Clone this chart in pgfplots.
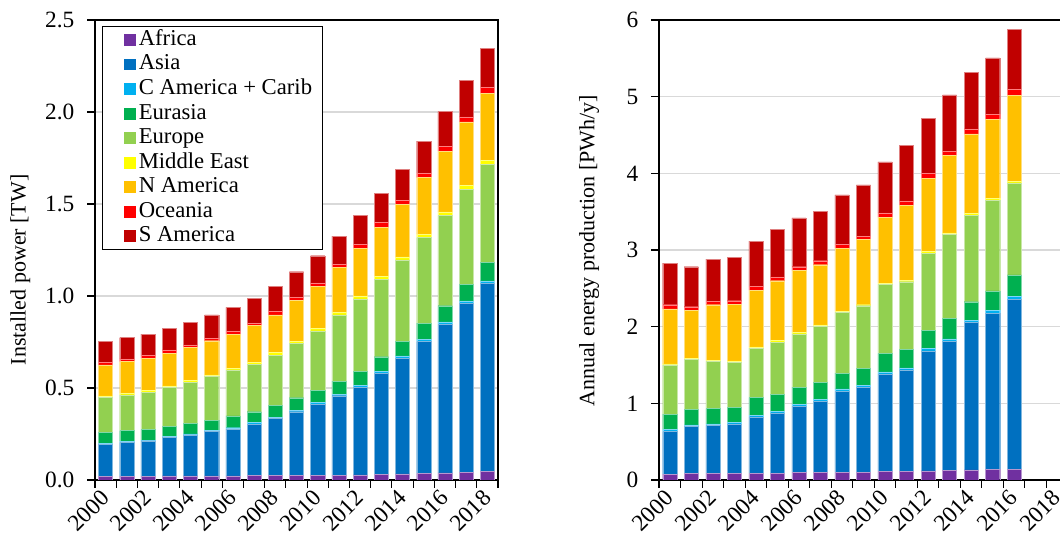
\documentclass[border=0pt]{standalone}
\usepackage{fontspec}
\setmainfont{Liberation Serif}
\usepackage{pgfplots}
\usepackage{pgfplotstable}
\pgfplotsset{compat=1.18}

\definecolor{cAf}{HTML}{7030A0}
\definecolor{cAs}{HTML}{0070C0}
\definecolor{cCA}{HTML}{00B0F0}
\definecolor{cEu}{HTML}{00B050}
\definecolor{cEp}{HTML}{92D050}
\definecolor{cME}{HTML}{FFFF00}
\definecolor{cNA}{HTML}{FFC000}
\definecolor{cOc}{HTML}{FF0000}
\definecolor{cSA}{HTML}{C00000}
\definecolor{gridc}{HTML}{D9D9D9}

\pgfplotstableread{
year Af As CA Eu Ep ME NA Oc SA
2000 0.020 0.174 0.005 0.060 0.190 0.008 0.168 0.014 0.113
2001 0.021 0.184 0.005 0.058 0.194 0.009 0.172 0.015 0.116
2002 0.021 0.191 0.005 0.057 0.202 0.010 0.175 0.017 0.115
2003 0.022 0.208 0.006 0.054 0.212 0.009 0.179 0.017 0.117
2004 0.022 0.223 0.005 0.058 0.221 0.011 0.181 0.013 0.123
2005 0.023 0.240 0.005 0.058 0.236 0.009 0.186 0.013 0.127
2006 0.023 0.254 0.007 0.064 0.250 0.009 0.186 0.013 0.132
2007 0.024 0.280 0.008 0.059 0.258 0.012 0.198 0.014 0.136
2008 0.024 0.311 0.007 0.064 0.273 0.013 0.205 0.018 0.139
2009 0.025 0.346 0.008 0.068 0.296 0.012 0.220 0.016 0.141
2010 0.026 0.387 0.009 0.067 0.321 0.014 0.230 0.017 0.148
2011 0.027 0.431 0.009 0.071 0.359 0.014 0.243 0.018 0.154
2012 0.028 0.476 0.010 0.075 0.395 0.016 0.259 0.022 0.156
2013 0.030 0.550 0.012 0.078 0.421 0.014 0.268 0.026 0.159
2014 0.033 0.628 0.013 0.081 0.441 0.016 0.286 0.022 0.168
2015 0.036 0.716 0.012 0.089 0.464 0.018 0.308 0.024 0.175
2016 0.039 0.807 0.013 0.088 0.490 0.020 0.331 0.025 0.189
2017 0.042 0.918 0.013 0.092 0.515 0.021 0.345 0.027 0.199
2018 0.046 1.023 0.013 0.099 0.535 0.023 0.362 0.033 0.210
}\powertable

\pgfplotstableread{
year Af As CA Eu Ep ME NA Oc SA
2000 0.078 0.553 0.026 0.201 0.644 0.013 0.718 0.053 0.544
2001 0.087 0.610 0.021 0.205 0.653 0.009 0.627 0.048 0.522
2002 0.087 0.623 0.021 0.201 0.614 0.013 0.727 0.047 0.549
2003 0.087 0.644 0.022 0.196 0.588 0.017 0.736 0.048 0.570
2004 0.087 0.736 0.022 0.230 0.645 0.017 0.740 0.052 0.588
2005 0.087 0.788 0.022 0.218 0.683 0.022 0.779 0.052 0.614
2006 0.096 0.866 0.022 0.226 0.697 0.022 0.801 0.052 0.636
2007 0.096 0.927 0.026 0.222 0.732 0.021 0.784 0.052 0.640
2008 0.100 1.054 0.035 0.204 0.792 0.014 0.827 0.052 0.640
2009 0.104 1.106 0.026 0.218 0.819 0.013 0.849 0.043 0.671
2010 0.113 1.271 0.027 0.239 0.901 0.018 0.857 0.057 0.666
2011 0.113 1.324 0.026 0.244 0.879 0.022 0.971 0.061 0.722
2012 0.118 1.567 0.030 0.235 1.010 0.022 0.954 0.061 0.718
2013 0.126 1.681 0.035 0.265 1.093 0.022 1.010 0.056 0.736
2014 0.131 1.924 0.030 0.240 1.127 0.022 1.041 0.065 0.740
2015 0.135 2.042 0.035 0.256 1.180 0.022 1.032 0.069 0.736
2016 0.139 2.221 0.039 0.278 1.198 0.021 1.124 0.074 0.783
}\energytable

\pgfplotsset{
  myaxis/.style={
    scale only axis,
    anchor=south west,
    height=345pt,
    ybar stacked,
    bar width=10.6pt,
    xmin=1999.5, xmax=2018.5,
    ymin=0,
    xtick={2000,2002,...,2018},
    minor xtick={1999.5,2000.5,...,2018.5},
    major x tick style={draw=none},
    minor x tick style={black, line width=0.8pt},
    minor tick length=6pt,
    major tick length=6pt,
    ytick style={black, line width=0.8pt},
    tick align=outside,
    xtick pos=bottom, ytick pos=left,
    xticklabel style={rotate=45, anchor=east, font=\fontsize{17.5}{20}\selectfont, /pgf/number format/1000 sep={}, /pgf/number format/assume math mode=true, yshift=-3pt},
    yticklabel style={font=\fontsize{17.5}{20}\selectfont, /pgf/number format/assume math mode=true, xshift=-6pt},
    ymajorgrids,
    major grid style={gridc, line width=1.2pt},
    axis line style={black, line width=0.8pt},
    label style={font=\fontsize{16.5}{19}\selectfont},
    legend image code/.code={\path (-10.5pt,0pt); \fill[##1,draw=none] (0pt,-4.4pt) rectangle (8.8pt,4.4pt);},
    every axis plot/.append style={line width=0.3pt},
  },
}

\begin{document}
\begin{tikzpicture}
\begin{axis}[myaxis,
  at={(71.25pt,51.75pt)}, width=302.25pt,
  ymax=2.5, ytick={0,0.5,...,2.5},
  yticklabel style={/pgf/number format/.cd, fixed, fixed zerofill, precision=1},
  ylabel={Installed power [TW]},
  ylabel style={at={(axis description cs:-0.185,0.457)}, anchor=center},
  legend style={at={(rel axis cs:0.0166,0.987)}, anchor=north west, draw=black, line width=0.75pt,
    font=\fontsize{17}{19}\selectfont, cells={anchor=west}, row sep=0pt,
    nodes={text height=11.5pt, text depth=3.5pt, inner ysep=1.7pt},
    inner xsep=6pt, inner ysep=1pt},
]
\addplot[fill=cAf, draw=cAf!50!white] table[x=year,y=Af]{\powertable};
\addplot[fill=cAs, draw=cAs!50!white] table[x=year,y=As]{\powertable};
\addplot[fill=cCA, draw=cCA!50!white] table[x=year,y=CA]{\powertable};
\addplot[fill=cEu, draw=cEu!50!white] table[x=year,y=Eu]{\powertable};
\addplot[fill=cEp, draw=cEp!50!white] table[x=year,y=Ep]{\powertable};
\addplot[fill=cME, draw=cME!50!white] table[x=year,y=ME]{\powertable};
\addplot[fill=cNA, draw=cNA!50!white] table[x=year,y=NA]{\powertable};
\addplot[fill=cOc, draw=cOc!50!white] table[x=year,y=Oc]{\powertable};
\addplot[fill=cSA, draw=cSA!50!white] table[x=year,y=SA]{\powertable};
\legend{Africa, Asia, C America + Carib, Eurasia, Europe, Middle East, N America, Oceania, S America}
\draw[black, line width=1.5pt] (rel axis cs:0,1) -- (rel axis cs:0,0) -- (rel axis cs:1,0);
\end{axis}

\begin{axis}[myaxis,
  at={(494.25pt,51.75pt)}, width=306.75pt,
  ymax=6, ytick={0,1,...,6},
  ylabel={Annual energy production [PWh/y]},
  ylabel style={at={(axis description cs:-0.171,0.498)}, anchor=center},
]
\addplot[fill=cAf, draw=cAf!50!white] table[x=year,y=Af]{\energytable};
\addplot[fill=cAs, draw=cAs!50!white] table[x=year,y=As]{\energytable};
\addplot[fill=cCA, draw=cCA!50!white] table[x=year,y=CA]{\energytable};
\addplot[fill=cEu, draw=cEu!50!white] table[x=year,y=Eu]{\energytable};
\addplot[fill=cEp, draw=cEp!50!white] table[x=year,y=Ep]{\energytable};
\addplot[fill=cME, draw=cME!50!white] table[x=year,y=ME]{\energytable};
\addplot[fill=cNA, draw=cNA!50!white] table[x=year,y=NA]{\energytable};
\addplot[fill=cOc, draw=cOc!50!white] table[x=year,y=Oc]{\energytable};
\addplot[fill=cSA, draw=cSA!50!white] table[x=year,y=SA]{\energytable};
\draw[black, line width=1.5pt] (rel axis cs:0,1) -- (rel axis cs:0,0) -- (rel axis cs:1,0);
\end{axis}
\pgfresetboundingbox
\path (0,0) rectangle (795pt,411.75pt);
\end{tikzpicture}
\end{document}
